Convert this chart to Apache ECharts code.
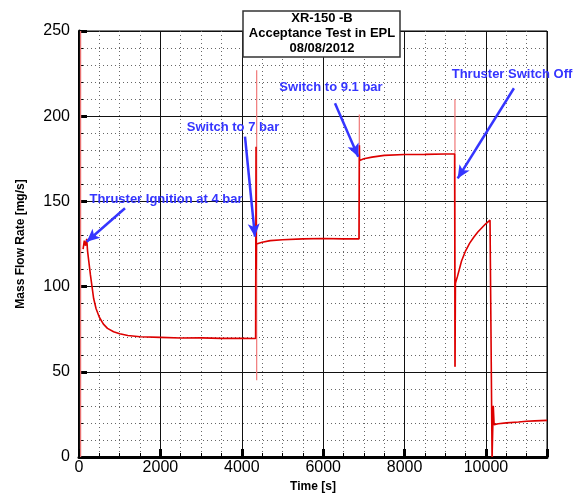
<!DOCTYPE html>
<html>
<head>
<meta charset="utf-8">
<script src="https://cdn.jsdelivr.net/npm/echarts@6/dist/echarts.min.js"></script>
<style>
  html, body { margin: 0; padding: 0; background: #fff; }
  #chart { width: 579px; height: 495px; }
</style>
</head>
<body>
<div id="chart"></div>
<script>
// main trace: [time s, flow mg/s]
const flowTrace = [
  [100, 122], [130, 127], [160, 124], [190, 128], [210, 121], [240, 115],
  [280, 107], [320, 100], [360, 93], [420, 87], [500, 82], [600, 78],
  [700, 75.5], [850, 73.5], [1000, 72.3], [1200, 71.3], [1500, 70.6],
  [2000, 70.2], [2500, 69.8], [3000, 69.9], [3500, 69.6], [4000, 69.7], [4340, 69.5],
  [4350, 182], [4355, 110], [4360, 125], [4500, 126], [4700, 127], [5000, 127.5],
  [5500, 128], [6000, 128.2], [6500, 128], [6880, 128],
  [6890, 183], [6895, 174], [7000, 175], [7200, 176], [7500, 177], [8000, 177.5],
  [8500, 177.6], [9000, 177.8], [9230, 177.8],
  [9240, 53], [9250, 102], [9300, 106], [9400, 115], [9500, 121], [9600, 125.5],
  [9700, 129], [9800, 132], [9900, 134.5], [10000, 137], [10100, 139], [10140, 140],
  [10150, 0], [10170, 0], [10180, 30], [10200, 19], [10300, 19.5], [10500, 20],
  [10800, 20.5], [11000, 21], [11200, 21.2], [11500, 21.5]
];

// thin transient spikes at the valve switches
const spikeTimes = [40, 4366, 6888, 9238, 10160];
const spikeLow = [0, 45, 128, 53, 0];
const spikeHigh = [250, 227, 201, 210, 30];

// annotations: text, arrow start, arrow end (data coords)
const noteTexts = ['Thruster Ignition at 4 bar', 'Switch to 7 bar', 'Switch to 9.1 bar', 'Thruster Switch Off'];
const noteTextPos = [[166, 199], [233, 127], [331, 87], [512, 74]];
const arrowFrom = [[1130, 146], [4079, 188], [6290, 207.6], [10688, 216.4]];
const arrowTo = [[189, 126.3], [4324, 129.3], [6862, 176.2], [9305, 163.5]];

const titleLines = ['XR-150 -B', 'Acceptance Test in EPL', '08/08/2012'];

const FONT = '"Liberation Sans", Arial, sans-serif';
const BLUE = '#3535ff';

const chart = echarts.init(document.getElementById('chart'));

const spikeSeries = spikeTimes.map((t, i) => ({
  type: 'line',
  data: [[t, spikeLow[i]], [t, spikeHigh[i]]],
  showSymbol: false,
  silent: true,
  z: 3,
  lineStyle: { color: '#f07878', width: 1.2 },
}));

chart.setOption({
  animation: false,
  grid: {
    left: 79, top: 31, right: 32, bottom: 38, outerBoundsMode: 'none',
    show: true, borderColor: '#000', borderWidth: 1, backgroundColor: 'transparent',
  },
  xAxis: [
    {
      type: 'value', min: 0, max: 11500, interval: 2000, z: 1,
      name: 'Time [s]', nameLocation: 'middle', nameGap: 24,
      nameTextStyle: { fontFamily: FONT, fontWeight: 'bold', fontSize: 12, color: '#000' },
      axisLine: { show: true, onZero: false, lineStyle: { color: '#000', width: 3 } },
      axisTick: { show: true, inside: true, length: 8, lineStyle: { color: '#000', width: 3 } },
      axisLabel: {
        fontFamily: FONT, fontSize: 16, color: '#000', margin: 3,
        formatter: v => (v % 2000 === 0 ? String(v) : ''),
      },
      splitLine: { show: true, lineStyle: { color: '#111', width: 1 } },
    },
    {
      type: 'value', min: 0, max: 11500, interval: 500, position: 'bottom', z: 0,
      axisLine: { show: false },
      axisTick: { show: true, inside: true, length: 4, lineStyle: { color: '#000', width: 1 } },
      axisLabel: { show: false },
      splitLine: { show: true, lineStyle: { color: '#666', width: 1, type: [1, 3] } },
    },
  ],
  yAxis: {
    type: 'value', min: 0, max: 250, interval: 50,
    name: 'Mass Flow Rate [mg/s]', nameLocation: 'middle', nameGap: 52, nameRotate: 90,
    nameTextStyle: { fontFamily: FONT, fontWeight: 'bold', fontSize: 12, color: '#000' },
    axisLine: { show: true, lineStyle: { color: '#000', width: 3 } },
    axisTick: { show: true, inside: true, length: 8, lineStyle: { color: '#000', width: 3 } },
    minorTick: { show: true, splitNumber: 5, length: 4, lineStyle: { color: '#000', width: 1 } },
    axisLabel: { fontFamily: FONT, fontSize: 16, color: '#000', margin: 9 },
    splitLine: { show: true, lineStyle: { color: '#111', width: 1 } },
    minorSplitLine: { show: true, lineStyle: { color: '#666', width: 1, type: [1, 3] } },
  },
  series: [
    ...spikeSeries,
    {
      type: 'line',
      data: flowTrace,
      showSymbol: false,
      z: 4,
      lineStyle: { color: '#dd0000', width: 1.6 },
      markLine: {
        silent: true,
        symbol: ['none', 'arrow'],
        symbolSize: [9, 13],
        label: { show: false },
        lineStyle: { color: BLUE, width: 2.5, type: 'solid' },
        data: arrowFrom.map((p, i) => [{ coord: p }, { coord: arrowTo[i] }]),
      },
    },
  ],
  graphic: [
    {
      type: 'rect', z: 100,
      shape: { x: 243, y: 11, width: 157, height: 46 },
      style: { fill: '#fff', stroke: '#333', lineWidth: 1.5 },
    },
    ...titleLines.map((s, i) => ({
      type: 'text', z: 101, x: 322, y: 18 + i * 15,
      style: { text: s, fill: '#000', font: 'bold 13px ' + FONT, align: 'center', verticalAlign: 'middle' },
    })),
    ...noteTexts.map((s, i) => ({
      type: 'text', z: 101, x: noteTextPos[i][0], y: noteTextPos[i][1],
      style: { text: s, fill: BLUE, font: 'bold 13px ' + FONT, align: 'center', verticalAlign: 'middle' },
    })),
  ],
});
</script>
</body>
</html>
